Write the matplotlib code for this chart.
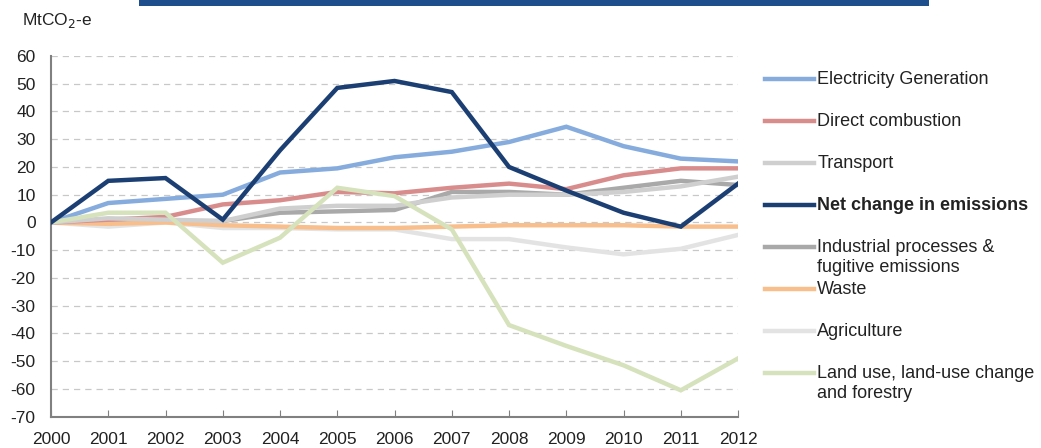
import matplotlib.pyplot as plt
from matplotlib.lines import Line2D
from matplotlib.patches import Rectangle

plt.rcParams['font.family'] = ['Liberation Sans', 'DejaVu Sans']
plt.rcParams['axes.unicode_minus'] = False

years = list(range(2000, 2013))

electricity = [0, 7, 8.5, 10, 18, 19.5, 23.5, 25.5, 29, 34.5, 27.5, 23, 22]
direct = [0, 1, 2, 6.5, 8, 11, 10.5, 12.5, 14, 12, 17, 19.5, 19.5]
transport = [0, 1.5, 1, 0.5, 5, 6, 6, 9, 10, 10, 11, 13, 16.5]
net = [0, 15, 16, 1, 26, 48.5, 51, 47, 20, 11.5, 3.5, -1.5, 14]
industrial = [0, 1, 0.5, 0.5, 3.5, 4, 4.5, 11, 11, 10, 12.5, 15, 13.5]
waste = [0, -0.5, 0, -1, -1.5, -2, -2, -1.5, -1, -1, -1, -1.5, -1.5]
agriculture = [0, -1.5, 0, -2, -2, -2.5, -2.5, -6, -6, -9, -11.5, -9.5, -4.5]
lulucf = [0, 3.5, 3.5, -14.5, -5.5, 12.5, 9.5, -2.5, -37, -44.5, -51.5, -60.5, -49]

labels = ['Electricity Generation', 'Direct combustion', 'Transport',
          'Net change in emissions', 'Industrial processes &\nfugitive emissions',
          'Waste', 'Agriculture', 'Land use, land-use change\nand forestry']
series = [electricity, direct, transport, net, industrial, waste, agriculture, lulucf]
colors = ['#86ACDD', '#D98C8C', '#CFCFCF', '#1C3F73', '#A9A9A9', '#F8BE8C', '#E3E3E3', '#D5E2BC']
zorder = [5, 4, 4, 8, 3, 3, 2, 6]

fig = plt.figure(figsize=(10.41, 4.48), dpi=100)
ax = fig.add_axes([0.049, 0.070, 0.660, 0.805])

# top banner
fig.add_artist(Rectangle((0.134, 0.987), 0.758, 0.02, transform=fig.transFigure,
                         color='#1F4E8C', lw=0))

for vals, c, z in zip(series, colors, zorder):
    ax.plot(years, vals, color=c, lw=3.2, zorder=z, solid_joinstyle='miter')

ax.set_xlim(2000, 2012)
ax.set_ylim(-70, 60)
ax.set_yticks(range(-70, 61, 10))
ax.set_xticks(years)
ax.yaxis.grid(True, color='#C8C8C8', linestyle=(0, (5, 4)), lw=0.9)
ax.set_axisbelow(True)
for s in ['top', 'right']:
    ax.spines[s].set_visible(False)
for s in ['left', 'bottom']:
    ax.spines[s].set_color('#808080')
    ax.spines[s].set_linewidth(1.5)
ax.tick_params(axis='y', length=0, labelsize=12.5, colors='#222222', pad=11)
ax.tick_params(axis='x', direction='in', length=5, color='#808080', labelsize=12.5,
               labelcolor='#222222', pad=11)

fig.text(0.021, 0.945, 'MtCO$_2$-e', fontsize=12.5, color='#222222')

# legend drawn by hand so multi-line entries align with first line
y0 = 1 - 79 / 448
dy = 42 / 448
for i, (lab, c) in enumerate(zip(labels, colors)):
    y = y0 - i * dy
    fig.add_artist(Line2D([0.735, 0.782], [y, y], transform=fig.transFigure,
                          color=c, lw=3.2))
    fig.text(0.785, y + 0.018, lab, fontsize=13, va='top', color='#222222',
             fontweight='bold' if i == 3 else 'normal', linespacing=1.2)

fig.savefig('out.png', dpi=100)
